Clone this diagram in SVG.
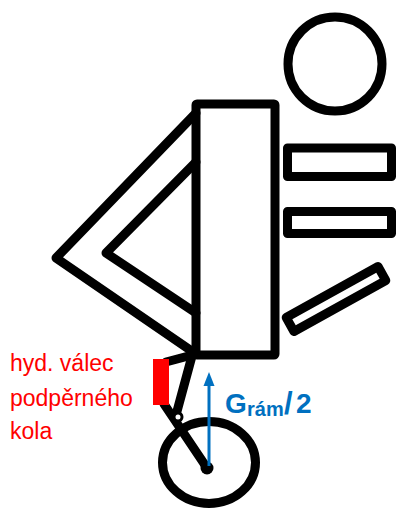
<svg xmlns="http://www.w3.org/2000/svg" width="397" height="511" viewBox="0 0 397 511">
  <style>
    .ln { fill: none; stroke: #000; stroke-width: 9; stroke-linejoin: round; stroke-linecap: round; }
    .lbl { font-family: "Liberation Sans", Arial, sans-serif; fill: #FF0000; font-size: 23px; }
    .frc { font-family: "Liberation Sans", Arial, sans-serif; fill: #0070C0; font-weight: bold; }
  </style>
  <rect width="397" height="511" fill="#fff"/>

  <!-- rider figure -->
  <g id="head"><circle class="ln" cx="335" cy="64" r="47"/></g>
  <g id="body"><rect class="ln" x="196" y="104" width="79" height="251" rx="1"/></g>
  <g id="arm-upper"><rect class="ln" x="287.5" y="148" width="104" height="28.5"/></g>
  <g id="arm-lower"><rect class="ln" x="287.5" y="211.5" width="104" height="22"/></g>
  <g id="leg"><rect class="ln" x="-52.5" y="-8" width="105" height="16" transform="translate(336 299) rotate(-29)"/></g>

  <!-- frame triangles -->
  <g id="frame-outer"><polyline class="ln" points="196,113 56,258 196,354"/></g>
  <g id="frame-inner"><polyline class="ln" points="196,162 106,253 196,313"/></g>

  <!-- support wheel and linkage -->
  <g id="wheel">
    <ellipse class="ln" cx="209" cy="462.5" rx="46.5" ry="41"/>
    <circle cx="207" cy="468" r="6.5" fill="#000"/>
  </g>
  <g id="linkage">
    <line class="ln" x1="166" y1="362" x2="196" y2="354" stroke-width="8"/>
    <line class="ln" x1="192" y1="356" x2="176" y2="415" stroke-width="7.5"/>
    <line class="ln" x1="164" y1="404" x2="207" y2="468" stroke-width="8"/>
    <circle cx="178" cy="417" r="4" fill="#fff" stroke="#000" stroke-width="3"/>
  </g>
  <g id="cylinder"><rect x="153" y="359" width="16" height="46" fill="#FF0000"/></g>

  <!-- load vector -->
  <g id="connectors">
    <line x1="209" y1="466" x2="209" y2="384" stroke="#0070C0" stroke-width="3"/>
    <polygon points="209,372 214.5,386 203.5,386" fill="#0070C0"/>
  </g>

  <!-- labels -->
  <g id="label-cylinder">
    <text class="lbl" x="10" y="371">hyd. válec</text>
    <text class="lbl" x="10" y="405.5">podpěrného</text>
    <text class="lbl" x="10" y="439">kola</text>
  </g>
  <g id="label-force">
    <text class="frc" font-size="28"><tspan x="225" y="413">G</tspan><tspan x="247" y="416" font-size="20">rám</tspan><tspan x="284" y="414" font-size="31">/</tspan><tspan x="296" y="413">2</tspan></text>
  </g>
</svg>
